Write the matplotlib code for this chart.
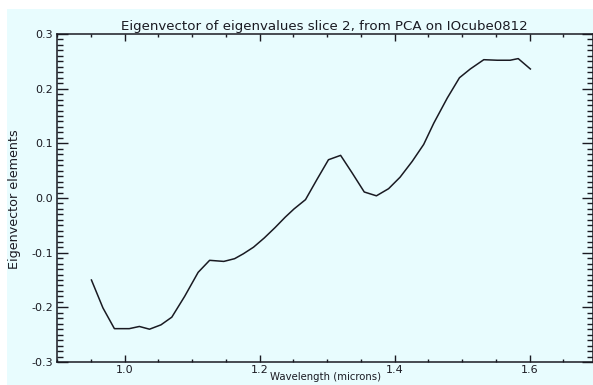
import numpy as np
import matplotlib
matplotlib.use('Agg')
import matplotlib.pyplot as plt
from matplotlib.ticker import MultipleLocator, FormatStrFormatter
from matplotlib.patches import Rectangle

# valeurs
wavelength = [0.951, 0.968, 0.985, 1.007, 1.022, 1.037, 1.054, 1.070, 1.089, 1.109,
              1.126, 1.147, 1.163, 1.176, 1.191, 1.207, 1.223, 1.238, 1.251, 1.268,
              1.285, 1.302, 1.320, 1.337, 1.355, 1.373, 1.391, 1.408, 1.426, 1.443,
              1.458, 1.478, 1.496, 1.512, 1.532, 1.552, 1.571, 1.583, 1.601]
eigvec = [-0.150, -0.201, -0.239, -0.239, -0.235, -0.240, -0.232, -0.218, -0.180, -0.136,
          -0.114, -0.116, -0.111, -0.102, -0.090, -0.073, -0.054, -0.035, -0.020, -0.003,
          0.034, 0.070, 0.078, 0.046, 0.011, 0.004, 0.017, 0.038, 0.067, 0.098,
          0.137, 0.183, 0.220, 0.236, 0.253, 0.252, 0.252, 0.255, 0.236]

titre = 'Eigenvector of eigenvalues slice 2, from PCA on IOcube0812'
xlab = 'Wavelength (microns)'
ylab = 'Eigenvector elements'

bg = '#e8fcfe'
ink = '#1a1a22'

plt.rcParams['axes.unicode_minus'] = False
plt.rcParams['font.family'] = 'DejaVu Sans'

W, H = 593, 385
fig = plt.figure(figsize=(W / 100, H / 100), dpi=100, facecolor='white')
fig.patches.append(Rectangle((7 / W, 0), 1, 1 - 9 / H, transform=fig.transFigure,
                             facecolor=bg, edgecolor='none', zorder=-10))

ax = fig.add_axes([57 / W, (H - 362) / H, 535.5 / W, 328 / H])
ax.set_facecolor(bg)
ax.plot(wavelength, eigvec, color=ink, lw=1.1)

ax.set_xlim(0.9, 1.693)
ax.set_ylim(-0.3, 0.3)
ax.xaxis.set_major_locator(MultipleLocator(0.2))
ax.xaxis.set_minor_locator(MultipleLocator(0.05))
ax.yaxis.set_major_locator(MultipleLocator(0.1))
ax.yaxis.set_minor_locator(MultipleLocator(0.01))
ax.xaxis.set_major_formatter(FormatStrFormatter('%.1f'))
ax.yaxis.set_major_formatter(FormatStrFormatter('%.1f'))

ax.tick_params(which='both', direction='in', top=True, right=True, colors=ink,
               labelsize=8, width=1)
ax.tick_params(axis='x', which='major', length=5, pad=2)
ax.tick_params(axis='x', which='minor', length=2.5)
ax.tick_params(axis='y', which='major', length=8, pad=3)
ax.tick_params(axis='y', which='minor', length=4.3)
for s in ax.spines.values():
    s.set_color(ink)
    s.set_linewidth(1.1)

ax.set_title(titre, fontsize=9.6, color=ink, pad=3)
fig.text(326 / W, 1 - 380 / H, xlab, ha='center', va='baseline', fontsize=7.3,
         color=ink)
fig.text(15 / W, 1 - 199 / H, ylab, ha='center', va='center', rotation=90,
         fontsize=9.2, color=ink)

fig.savefig('out.png', dpi=100, facecolor='white')
